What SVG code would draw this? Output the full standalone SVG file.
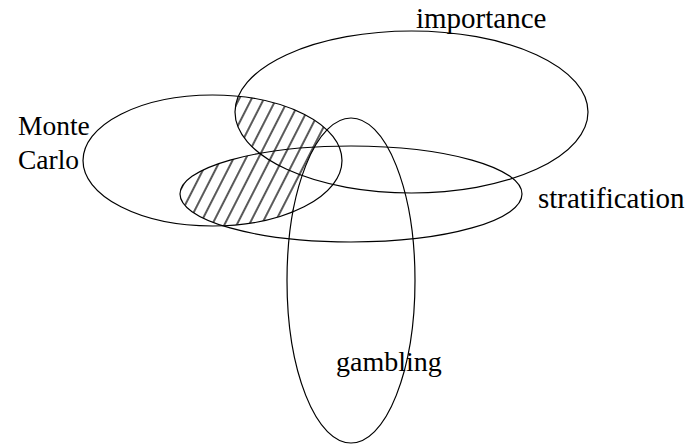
<svg xmlns="http://www.w3.org/2000/svg" width="687" height="444" viewBox="0 0 687 444">
<style>
.e{fill:none;stroke:#000;stroke-width:1.2}
.t{font-family:"Liberation Serif","Times New Roman",serif;font-size:28px;fill:#000}
</style>
<defs>
<pattern id="hatch" width="11" height="11" patternUnits="userSpaceOnUse" patternTransform="rotate(27)">
<line x1="5" y1="0" x2="5" y2="11" stroke="#000" stroke-width="1.3"/>
</pattern>
<clipPath id="mcClip"><ellipse cx="212.5" cy="160.5" rx="129.5" ry="65.5"/></clipPath>
<mask id="hmask" maskUnits="userSpaceOnUse" x="0" y="0" width="687" height="444">
<ellipse cx="411.5" cy="112" rx="176.5" ry="81" fill="#fff"/>
<ellipse cx="351" cy="194" rx="171" ry="48" fill="#fff"/>
<ellipse cx="351" cy="280.5" rx="64" ry="162.5" fill="#000"/>
</mask>
</defs>
<g id="hatching" clip-path="url(#mcClip)">
<rect x="0" y="0" width="687" height="444" fill="url(#hatch)" mask="url(#hmask)"/>
</g>
<g id="connectors"></g>
<g id="importance">
<ellipse class="e" cx="411.5" cy="112" rx="176.5" ry="81"/>
<text class="t" x="416" y="28" style="font-size:29px">importance</text>
</g>
<g id="monte-carlo">
<ellipse class="e" cx="212.5" cy="160.5" rx="129.5" ry="65.5"/>
<text class="t" x="18" y="135" style="font-size:27.5px">Monte</text>
<text class="t" x="18" y="169" style="font-size:27.5px">Carlo</text>
</g>
<g id="stratification">
<ellipse class="e" cx="351" cy="194" rx="171" ry="48"/>
<text class="t" x="538" y="208" style="font-size:29px">stratification</text>
</g>
<g id="gambling">
<ellipse class="e" cx="351" cy="280.5" rx="64" ry="162.5"/>
<text class="t" x="336" y="371">gambling</text>
</g>
</svg>
